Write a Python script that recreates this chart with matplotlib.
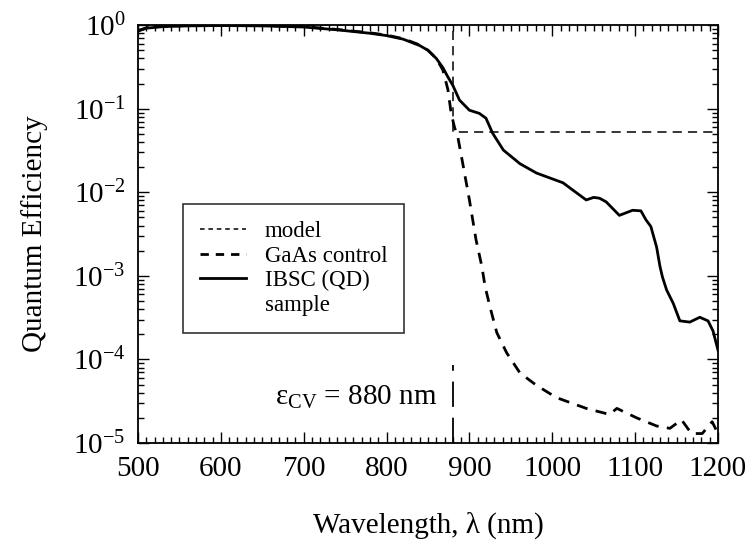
import matplotlib
matplotlib.use("Agg")
import matplotlib.pyplot as plt
from matplotlib.lines import Line2D
from matplotlib.ticker import MultipleLocator, LogLocator, NullFormatter

plt.rcParams['font.family'] = ['Liberation Serif', 'DejaVu Serif']
plt.rcParams['mathtext.fontset'] = 'custom'
plt.rcParams['mathtext.rm'] = 'Liberation Serif'
plt.rcParams['mathtext.it'] = 'Liberation Serif:italic'
plt.rcParams['mathtext.bf'] = 'Liberation Serif:bold'

# IBSC (QD) sample
ibsc_wl = [500, 510, 530, 560, 600, 650, 700, 740, 780, 800, 820, 840, 850, 860, 868, 874,
           880, 888, 900, 912, 920, 928, 941, 961, 981, 1013, 1025, 1041, 1050, 1057, 1065,
           1081, 1097, 1107, 1113, 1119, 1126, 1130, 1133, 1138, 1146, 1154, 1166, 1178,
           1188, 1194, 1200]
ibsc_qe = [0.85, 0.92, 0.96, 0.98, 0.99, 0.98, 0.95, 0.88, 0.80, 0.75, 0.68, 0.57, 0.50,
           0.40, 0.31, 0.24, 0.19, 0.127, 0.096, 0.088, 0.077, 0.051, 0.032, 0.022, 0.017,
           0.013, 0.0106, 0.0081, 0.0087, 0.0085, 0.0077, 0.0053, 0.0061, 0.0060, 0.0047,
           0.0039, 0.0022, 0.0013, 9.7e-4, 6.8e-4, 4.7e-4, 2.9e-4, 2.8e-4, 3.2e-4, 2.9e-4,
           2.2e-4, 1.3e-4]

# GaAs control
gaas_wl = [500, 510, 530, 560, 600, 650, 700, 740, 780, 800, 820, 840, 850, 860, 868, 874,
           878, 882, 886, 892, 900, 908, 915, 919, 925, 933, 945, 961, 981, 1005, 1041, 1069,
           1078, 1102, 1126, 1142, 1156, 1168, 1181, 1193, 1200]
gaas_qe = [0.86, 0.93, 0.97, 0.99, 1.0, 0.99, 0.96, 0.89, 0.81, 0.76, 0.69, 0.58, 0.50,
           0.40, 0.29, 0.17, 0.088, 0.060, 0.046, 0.022, 0.0081, 0.0027, 0.0013, 7.4e-4,
           4.2e-4, 2.1e-4, 1.2e-4, 6.9e-5, 4.9e-5, 3.5e-5, 2.6e-5, 2.2e-5, 2.6e-5, 2.0e-5,
           1.6e-5, 1.5e-5, 1.9e-5, 1.3e-5, 1.3e-5, 1.8e-5, 1.3e-5]

# model
model_wl = [500, 880, 880, 1200]
model_qe = [1.0, 1.0, 0.052, 0.052]

# band-gap marker
eps_cv = 880
marker_qe = [1e-5, 8.5e-5]

xticks = [500, 600, 700, 800, 900, 1000, 1100, 1200]

fig = plt.figure(figsize=(7.51, 5.47), dpi=100)
ax = fig.add_axes([0.1838, 0.190, 0.7722, 0.764])

ax.plot(model_wl, model_qe, color='black', lw=1.1, dashes=(6, 4), label='model')
ax.plot(gaas_wl, gaas_qe, color='black', lw=2.0, dashes=(4, 3), label='GaAs control')
ax.plot(ibsc_wl, ibsc_qe, color='black', lw=2.0, label='IBSC (QD)')
ax.plot([eps_cv, eps_cv], marker_qe, color='black', lw=1.3, dashes=(14, 6))

ax.set_yscale('log')
ax.set_xlim(500, 1200)
ax.set_ylim(1e-5, 1)
ax.set_xticks(xticks)
ax.xaxis.set_minor_locator(MultipleLocator(10))
ax.yaxis.set_major_locator(LogLocator(base=10, numticks=10))
ax.yaxis.set_minor_locator(LogLocator(base=10, subs=range(2, 10), numticks=20))
ax.yaxis.set_minor_formatter(NullFormatter())

ax.tick_params(which='both', direction='in', top=True, right=True, labelsize=21,
               width=1.0, pad=9)
ax.tick_params(which='major', length=8)
ax.tick_params(which='minor', length=4)
for s in ax.spines.values():
    s.set_linewidth(1.3)

ax.set_xlabel('Wavelength, λ (nm)', fontsize=21, labelpad=22)
ax.set_ylabel('Quantum Efficiency', fontsize=21, labelpad=18)

ax.text(861, 10**-4.45, r'ε$_{\mathrm{CV}}$ = 880 nm', fontsize=21, ha='right', va='center')

handles = [
    Line2D([], [], color='black', lw=1.1, dashes=(3, 2.5)),
    Line2D([], [], color='black', lw=2.0, dashes=(3, 2.5)),
    Line2D([], [], color='black', lw=2.0),
    Line2D([], [], color='none'),
]
labels = ['model', 'GaAs control', 'IBSC (QD)', 'sample']
leg = ax.legend(handles, labels, loc='upper left', bbox_to_anchor=(0.078, 0.572),
                borderaxespad=0, fontsize=16.5, frameon=True, fancybox=False,
                edgecolor='black', handlelength=2.0, handletextpad=0.8,
                labelspacing=0.15, borderpad=0.75)
leg.get_frame().set_linewidth(1.2)

fig.savefig('out.png', dpi=100)
